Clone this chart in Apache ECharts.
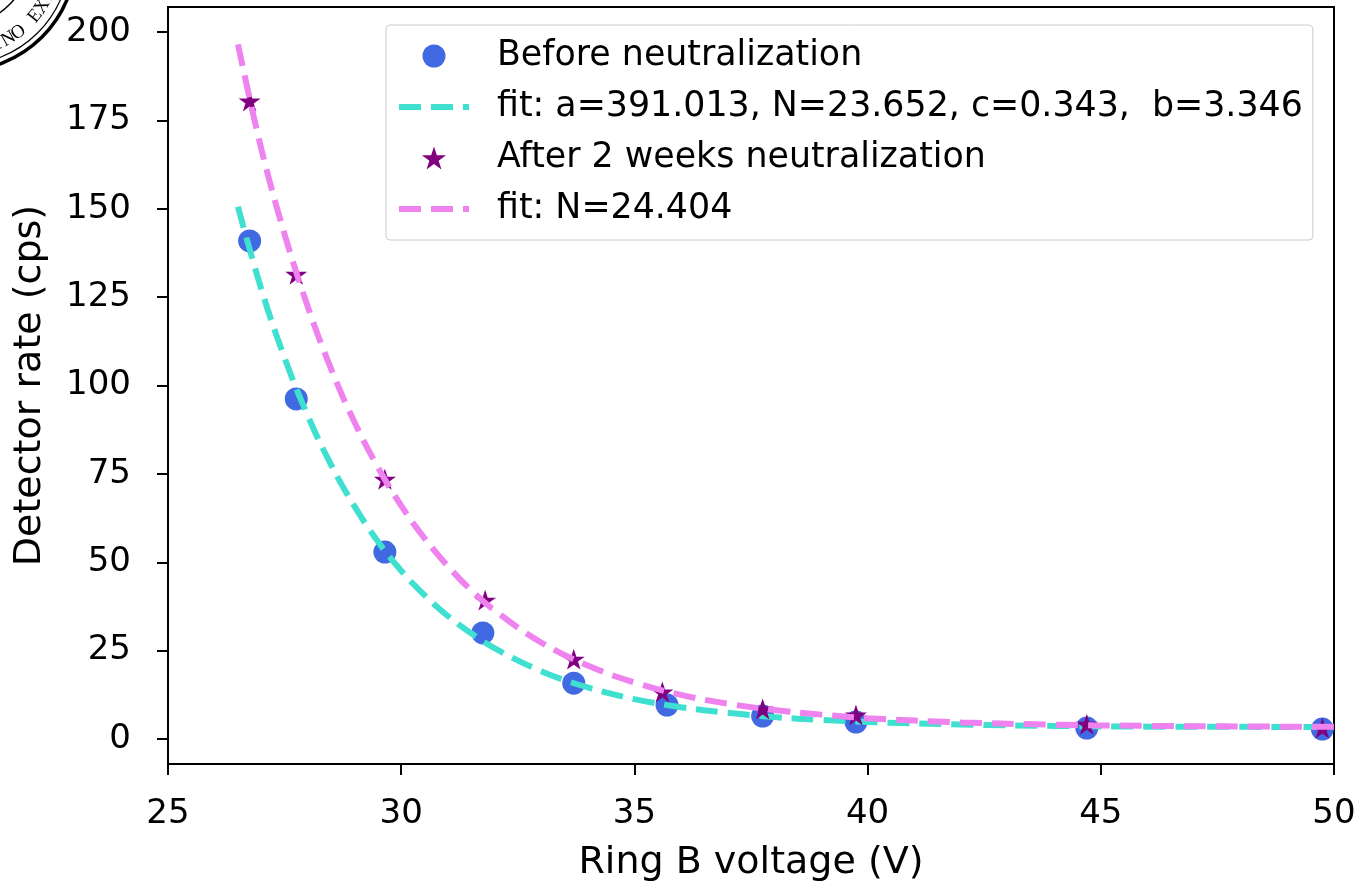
<!DOCTYPE html>
<html><head><meta charset="utf-8">
<script src="https://cdn.jsdelivr.net/npm/echarts@6/dist/echarts.min.js"></script>
<style>html,body{margin:0;padding:0;background:#fff}#chart{width:1360px;height:885px}</style>
</head><body><div id="chart"></div>
<script>
// ---- data ----
const beforeX = [26.75, 27.75, 29.65, 31.75, 33.7, 35.7, 37.75, 39.75, 44.7, 49.75];
const beforeY = [140.9, 96.2, 52.9, 30.0, 15.8, 9.6, 6.5, 4.8, 3.1, 2.8];
const afterX  = [26.75, 27.75, 29.65, 31.8, 33.7, 35.6, 37.75, 39.75, 44.7, 49.75];
const afterY  = [180.5, 131.5, 73.5, 39.3, 22.6, 13.3, 8.5, 6.8, 4.2, 3.1];
const fitX = [26.5, 27, 27.5, 28, 28.5, 29, 29.5, 30, 30.5, 31, 31.5, 32, 33, 34, 35, 36, 37, 38, 39, 40, 42, 44, 46, 48, 50];
const fitBeforeY = [150.6, 127.3, 107.8, 91.4, 77.5, 65.8, 55.9, 47.6, 40.7, 34.8, 29.9, 25.7, 19.2, 14.6, 11.3, 9.0, 7.4, 6.2, 5.4, 4.8, 4.1, 3.7, 3.5, 3.44, 3.39];
const fitAfterY  = [196.5, 167.0, 142.8, 122.2, 104.6, 89.6, 76.9, 66.0, 56.8, 48.9, 42.1, 36.4, 27.3, 20.8, 16.0, 12.5, 10.0, 8.2, 6.9, 5.9, 4.7, 4.06, 3.72, 3.55, 3.45];
const xTicks = [25, 30, 35, 40, 45, 50];
const yTicks = [0, 25, 50, 75, 100, 125, 150, 175, 200];
const seriesNames = ['Before neutralization', 'fit: a=391.013, N=23.652, c=0.343,  b=3.346', 'After 2 weeks neutralization', 'fit: N=24.404'];
const xLabel = 'Ring B voltage (V)';
const yLabel = 'Detector rate (cps)';
const sealText = 'INO EXI';

const zip = (xs, ys) => xs.map((x, i) => [x, ys[i]]);
const FONT = 'DejaVu Sans';
const STAR = 'path://M0,-100 L22.45,-30.9 L95.1,-30.9 L36.3,11.8 L58.8,80.9 L0,38.2 L-58.8,80.9 L-36.3,11.8 L-95.1,-30.9 L-22.45,-30.9 Z';
const DASH_ICON = 'path://M0,0h22v6h-22z M32,0h22v6h-22z M64,0h6v6h-6z';

// seal decoration (top-left corner)
const sealCx = -40, sealCy = -45;
const sealGraphics = [
  {type: 'circle', silent: true, shape: {cx: sealCx, cy: sealCy, r: 116}, style: {fill: 'none', stroke: '#000', lineWidth: 3.5}},
  {type: 'circle', silent: true, shape: {cx: sealCx, cy: sealCy, r: 110}, style: {fill: 'none', stroke: '#000', lineWidth: 1.2}},
  {type: 'circle', silent: true, shape: {cx: sealCx, cy: sealCy, r: 70}, style: {fill: 'none', stroke: '#000', lineWidth: 1.5}}
];
sealText.split('').forEach((ch, i) => {
  const th = 67 - i * 7;
  const rad = th * Math.PI / 180;
  sealGraphics.push({
    type: 'text', silent: true,
    x: sealCx + 97 * Math.cos(rad), y: sealCy + 97 * Math.sin(rad),
    rotation: (90 - th) * Math.PI / 180,
    style: {text: ch, font: '19px "Liberation Serif"', fill: '#000', textAlign: 'center', textVerticalAlign: 'middle'}
  });
});

const chart = echarts.init(document.getElementById('chart'), null, {renderer: 'canvas'});
chart.setOption({
  backgroundColor: '#ffffff',
  animation: false,
  textStyle: {fontFamily: FONT},
  graphic: sealGraphics,
  grid: {left: 168, right: 26, top: 7, bottom: 121, show: true, borderColor: '#000', borderWidth: 2, backgroundColor: 'transparent', containLabel: false, outerBoundsMode: 'none'},
  legend: {
    orient: 'vertical', left: 386, top: 25,
    data: [
      {name: seriesNames[0]},
      {name: seriesNames[1], icon: DASH_ICON},
      {name: seriesNames[2]},
      {name: seriesNames[3], icon: DASH_ICON}
    ],
    itemWidth: 70, itemHeight: 23, itemGap: 11,
    padding: [11, 10, 11, 13],
    backgroundColor: 'rgba(255,255,255,0.8)', borderColor: '#cccccc', borderWidth: 1, borderRadius: 4,
    textStyle: {fontFamily: FONT, fontSize: 34.8, color: '#000', lineHeight: 40, padding: [0, 0, 0, 23]},
    selectedMode: false
  },
  xAxis: {
    type: 'value', min: xTicks[0], max: xTicks[xTicks.length - 1], interval: 5,
    name: xLabel, nameLocation: 'middle', nameGap: 80,
    nameTextStyle: {fontFamily: FONT, fontSize: 38, color: '#000'},
    axisLine: {show: true, onZero: false, lineStyle: {color: '#000', width: 2}},
    axisTick: {show: true, inside: false, length: 11, lineStyle: {color: '#000', width: 2}},
    axisLabel: {fontFamily: FONT, fontSize: 34, color: '#000', margin: 33},
    splitLine: {show: false}
  },
  yAxis: {
    type: 'value', min: -7.07, max: 207.1,
    name: yLabel, nameLocation: 'middle', nameGap: 119,
    nameTextStyle: {fontFamily: FONT, fontSize: 38, color: '#000'},
    axisLine: {show: true, onZero: false, lineStyle: {color: '#000', width: 2}},
    axisTick: {show: true, inside: false, length: 11, customValues: yTicks, lineStyle: {color: '#000', width: 2}},
    axisLabel: {fontFamily: FONT, fontSize: 34, color: '#000', margin: 37, customValues: yTicks},
    splitLine: {show: false}
  },
  series: [
    {name: seriesNames[0], type: 'scatter', data: zip(beforeX, beforeY), symbol: 'circle', symbolSize: 23,
     itemStyle: {color: '#4169E1', opacity: 1}, z: 2},
    {name: seriesNames[1], type: 'line', data: zip(fitX, fitBeforeY), symbol: 'none', showSymbol: false, smooth: 0.4,
     lineStyle: {color: '#40E0D0', width: 6, type: [22, 10], cap: 'butt'}, itemStyle: {color: '#40E0D0'}, z: 3},
    {name: seriesNames[2], type: 'scatter', data: zip(afterX, afterY), symbol: STAR, symbolSize: 22, symbolKeepAspect: true,
     itemStyle: {color: '#800080', opacity: 1}, z: 4},
    {name: seriesNames[3], type: 'line', data: zip(fitX, fitAfterY), symbol: 'none', showSymbol: false, smooth: 0.4,
     lineStyle: {color: '#EE82EE', width: 6, type: [22, 10], cap: 'butt'}, itemStyle: {color: '#EE82EE'}, z: 5}
  ]
});
</script>
</body></html>
